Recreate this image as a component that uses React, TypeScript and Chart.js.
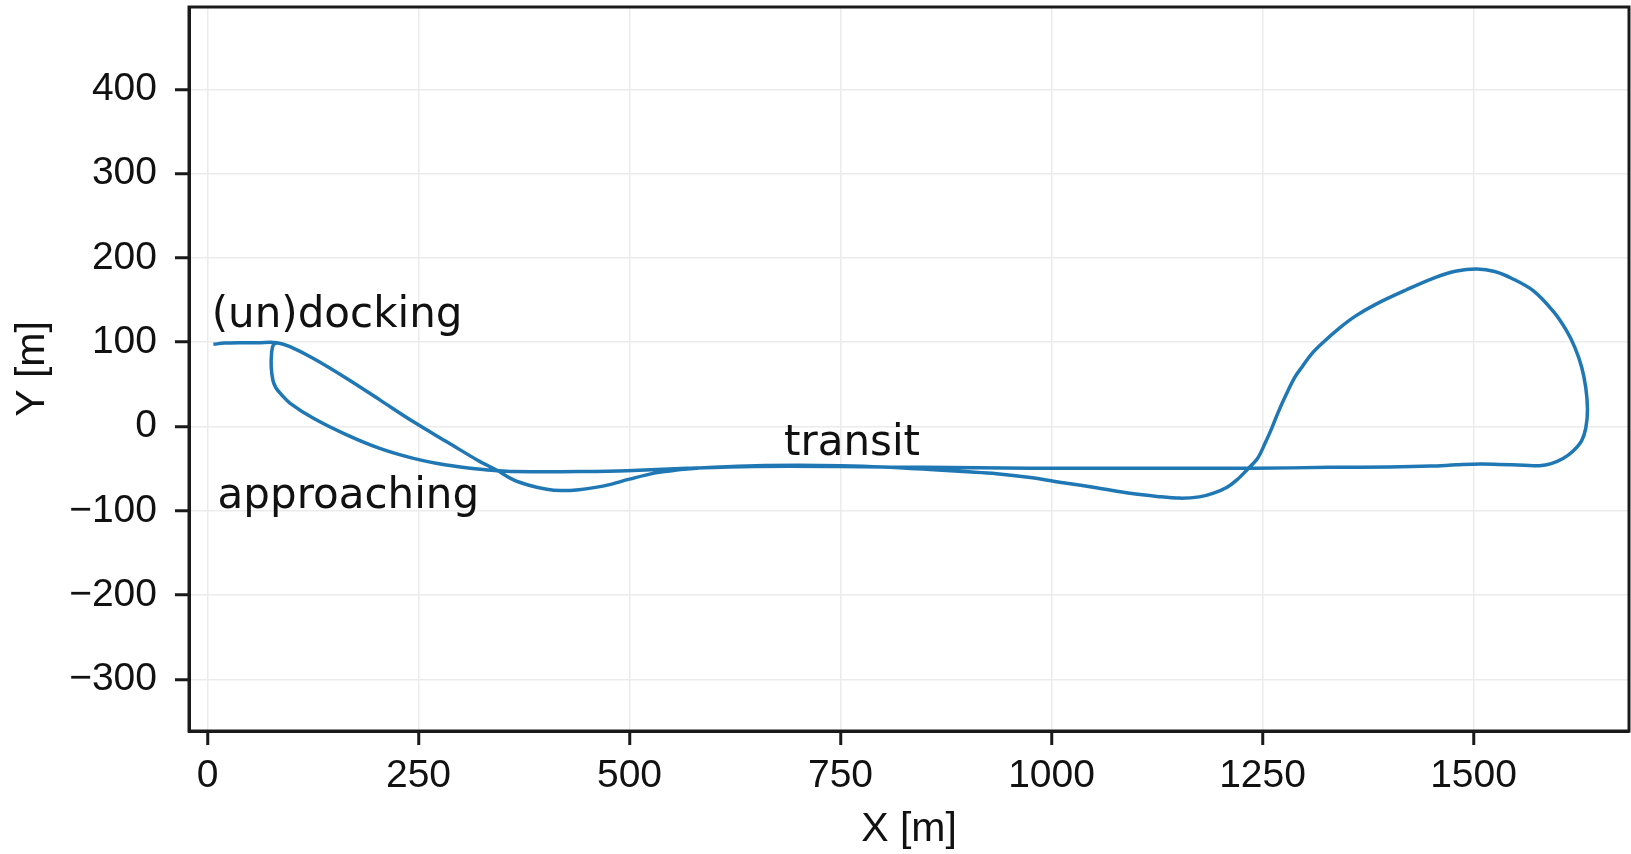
import React, { useEffect, useRef } from "react";
import { Chart, registerables } from "chart.js";

Chart.register(...registerables);

// Trajectory (in metres), in the order it was travelled
const pathX = [
  7, 20, 40, 60, 82,
  97, 125, 165, 205, 245, 285, 320, 343, 362, 382, 402, 418, 440, 470, 500, 528, 550, 568,
  600, 650, 700, 750, 800, 856, 895, 935, 975, 1014, 1055, 1093, 1125, 1152, 1175, 1192, 1208,
  1220, 1232, 1244, 1253, 1261, 1269, 1278, 1288, 1297, 1308, 1323, 1340, 1360, 1384, 1420, 1455,
  1480, 1504, 1525, 1545, 1571, 1595, 1610, 1620, 1628, 1633, 1635, 1633, 1628, 1618, 1606, 1592, 1578,
  1560, 1530, 1508, 1480, 1449, 1400, 1330, 1239, 1150, 1050, 975, 850, 750, 647, 568, 497,
  440, 410, 362, 343, 323, 283, 244, 204, 165, 125, 98, 88, 81, 77.5, 75.5, 76, 78, 82,
];
const pathY = [
  97.5, 99, 99.5, 99.5, 99.5,
  95, 81, 57, 31, 5, -19, -40, -52, -63, -70, -74.5, -76, -75, -70.5, -62.5, -55.6, -52.5, -50.5,
  -48.5, -46.5, -46, -46.5, -48, -51, -53.5, -56, -60.5, -66.7, -73, -79.3, -83, -85, -83.5, -79, -72,
  -63, -51, -38, -20, -2, 18, 38, 58, 71, 86, 101, 116, 131, 145, 162, 177,
  184.5, 186.8, 184, 176, 161, 136, 114, 94, 71, 46, 20, -2, -17, -29, -38, -44, -46.5,
  -46, -45, -44.5, -45.5, -47, -48, -48.5, -49.6, -49.5, -49.5, -49.5, -48.5, -47.5, -47.5, -49.6, -52.4,
  -53.5, -53.6, -53.5, -52.5, -50.8, -45.7, -37.8, -26, -10, 10, 27.5, 37.4, 46, 55, 71, 88, 97, 99.5,
];

const xTicks = [0, 250, 500, 750, 1000, 1250, 1500];
const yTicks = [-300, -200, -100, 0, 100, 200, 300, 400];
const xMin = -21.9;
const xMax = 1684.2;
const yMin = -361.4;
const yMax = 497.9;

const labelTexts = ["(un)docking", "approaching", "transit"];
const labelX = [5, 12, 683];
const labelY = [118, -96.7, -34];

const xTitle = "X [m]";
const yTitle = "Y [m]";

const LINE = "#1f77b4";
const INK = "#1a1a1a";
const GRID = "#ebebeb";

const framePlugin = {
  id: "frameAndNotes",
  afterDraw(chart: any) {
    const { ctx, chartArea: a, scales } = chart;
    ctx.save();
    ctx.strokeStyle = INK;
    ctx.lineWidth = 3;
    ctx.strokeRect(a.left, a.top, a.right - a.left, a.bottom - a.top);
    ctx.fillStyle = "#111";
    ctx.font = '42px "DejaVu Sans"';
    ctx.textAlign = "left";
    ctx.textBaseline = "alphabetic";
    labelTexts.forEach((t, i) => {
      ctx.fillText(t, scales.x.getPixelForValue(labelX[i]), scales.y.getPixelForValue(labelY[i]));
    });
    ctx.restore();
  },
};

export default function App() {
  const ref = useRef<HTMLCanvasElement | null>(null);

  useEffect(() => {
    if (!ref.current) return;
    const data = pathX.map((x, i) => ({ x, y: pathY[i] }));
    const chart = new Chart(ref.current, {
      type: "scatter",
      data: {
        datasets: [
          {
            data,
            showLine: true,
            borderColor: LINE,
            borderWidth: 3.5,
            pointRadius: 0,
            tension: 0.35,
            fill: false,
          },
        ],
      },
      options: {
        responsive: false,
        devicePixelRatio: 1,
        animation: false,
        layout: { padding: { left: 0, top: 7, right: 2, bottom: 0 } },
        plugins: { legend: { display: false }, tooltip: { enabled: false } },
        scales: {
          x: {
            type: "linear",
            min: xMin,
            max: xMax,
            afterBuildTicks: (s: any) => {
              s.ticks = xTicks.map((v) => ({ value: v }));
            },
            afterFit: (s: any) => {
              s.height = 123;
              s.paddingLeft = 0;
              s.paddingRight = 0;
              s.paddingTop = 0;
              s.paddingBottom = 0;
            },
            grid: { color: GRID, lineWidth: 1.5, tickColor: INK, tickWidth: 3, tickLength: 14, drawTicks: true },
            border: { display: true, color: INK, width: 3 },
            ticks: {
              font: { family: '"Liberation Sans", Arial, sans-serif', size: 39 },
              color: "#111",
              padding: 8,
              maxRotation: 0,
              autoSkip: false,
              callback: (v: any) => String(v),
            },
            title: {
              display: true,
              text: xTitle,
              color: "#111",
              font: { family: '"Liberation Sans", Arial, sans-serif', size: 41 },
              padding: { top: 0, bottom: 0 },
            },
          },
          y: {
            type: "linear",
            min: yMin,
            max: yMax,
            afterBuildTicks: (s: any) => {
              s.ticks = yTicks.map((v) => ({ value: v }));
            },
            afterFit: (s: any) => {
              s.width = 189;
              s.paddingLeft = 0;
              s.paddingRight = 0;
              s.paddingTop = 0;
              s.paddingBottom = 0;
            },
            grid: { color: GRID, lineWidth: 1.5, tickColor: INK, tickWidth: 3, tickLength: 14, drawTicks: true },
            border: { display: true, color: INK, width: 3 },
            ticks: {
              font: { family: '"Liberation Sans", Arial, sans-serif', size: 39 },
              color: "#111",
              padding: 18,
              autoSkip: false,
              callback: (v: any) => String(v).replace("-", "\u2212"),
            },
            title: {
              display: true,
              text: yTitle,
              color: "#111",
              font: { family: '"Liberation Sans", Arial, sans-serif', size: 41 },
              padding: { top: 8, bottom: 0 },
            },
          },
        },
      },
      plugins: [framePlugin],
    });
    return () => chart.destroy();
  }, []);

  return (
    <div style={{ position: "absolute", left: 0, top: 0, width: 1631, height: 854, background: "#fff" }}>
      <canvas ref={ref} width={1631} height={854} style={{ display: "block" }} />
    </div>
  );
}
